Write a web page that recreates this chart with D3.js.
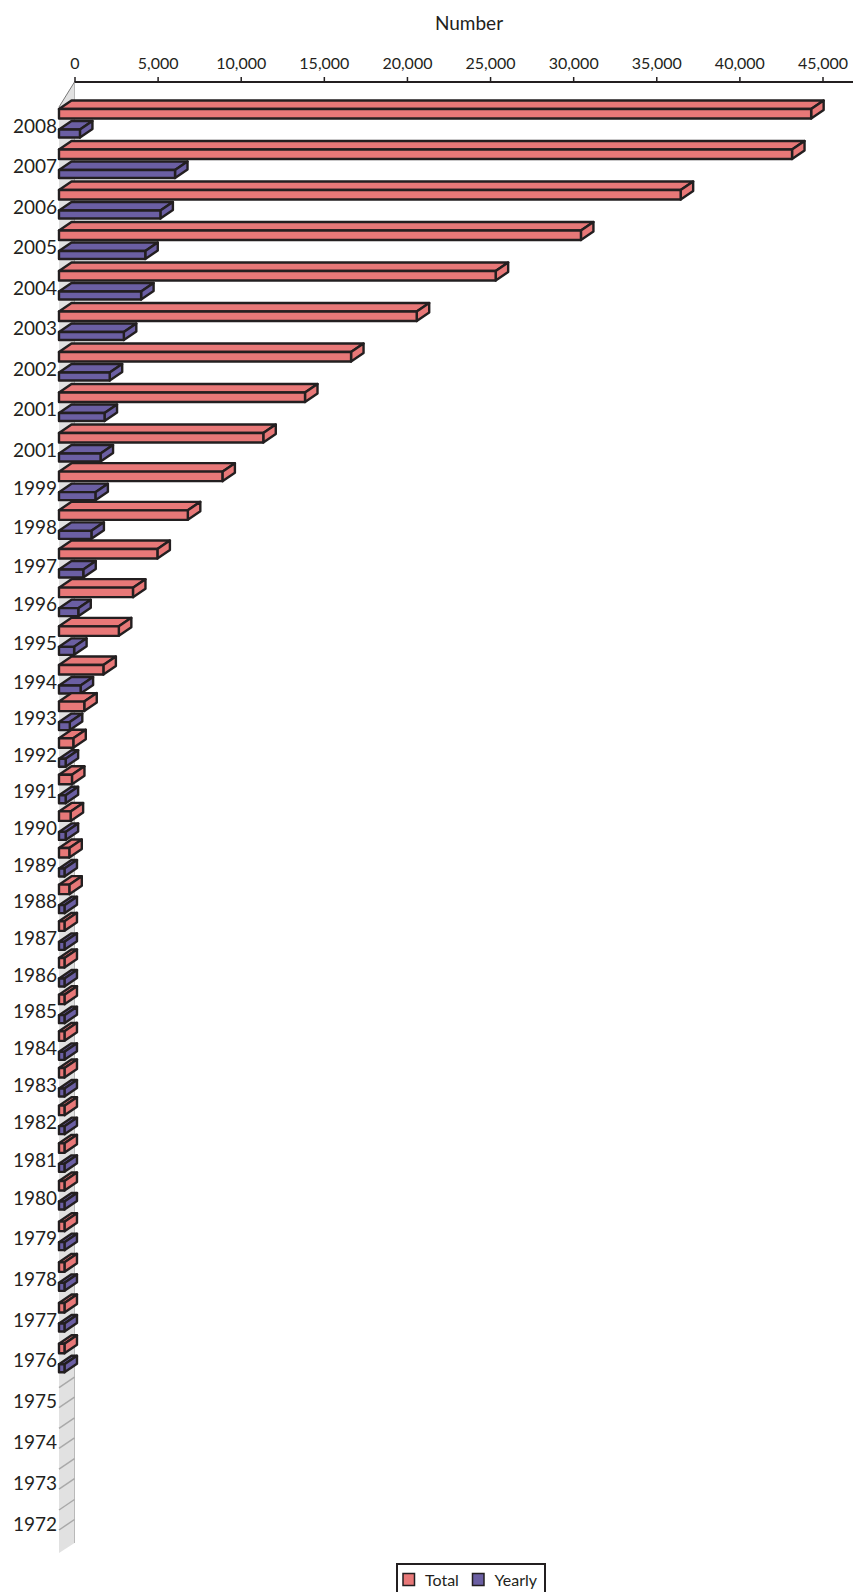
<!DOCTYPE html>
<html>
<head>
<meta charset="utf-8">
<script src="https://cdn.jsdelivr.net/npm/d3@7"></script>
<style>
  body { margin: 0; background: #fff; }
  svg text { font-family: Lato, "Noto Sans", sans-serif; fill: #231f20; }
</style>
</head>
<body>
<div id="chart"></div>
<script>
'use strict'

// categories, top to bottom (the source really lists 2001 twice)
const years = ["2008", "2007", "2006", "2005", "2004", "2003", "2002", "2001", "2001", "1999",
  "1998", "1997", "1996", "1995", "1994", "1993", "1992", "1991", "1990", "1989",
  "1988", "1987", "1986", "1985", "1984", "1983", "1982", "1981", "1980", "1979",
  "1978", "1977", "1976", "1975", "1974", "1973", "1972"]

const totalValues = [45250, 44100, 37400, 31400, 26270, 21520, 17570, 14800, 12290, 9830,
  7750, 5920, 4450, 3600, 2670, 1520, 860, 780, 700, 620,
  620, 330, 330, 330, 330, 330, 330, 330, 330, 330,
  330, 330, 330, 0, 0, 0, 0]

const yearlyValues = [1260, 6980, 6100, 5190, 4940, 3900, 3050, 2740, 2500, 2190,
  1950, 1460, 1160, 910, 1300, 650, 400, 400, 400, 330,
  330, 330, 330, 330, 330, 330, 330, 330, 330, 330,
  330, 330, 330, 0, 0, 0, 0]

const tickValues = [0, 5000, 10000, 15000, 20000, 25000, 30000, 35000, 40000, 45000]
const seriesNames = ["Total", "Yearly"]
const seriesColors = ["#e87878", "#6b5fa3"]

const width = 853, height = 1592
const frontX = 59, backX = 74.5          // value 0 on the front / back of the wall
const wallDy = -10.5
const barDx = 12.5, barDy = -8.5        // depth of a bar
const axisY = 82
const ink = "#231f20"

const svg = d3.select("#chart").append("svg")
  .attr("width", width)
  .attr("height", height)

const x = d3.scaleLinear().domain([0, 45000]).range([0, 748])

// row tops of the Total bars (the original layout is slightly uneven)
const rowY = d3.scaleLinear()
  .domain([0, 8, 14, 19, 25, 28, 31, 36])
  .range([109, 433, 665, 848, 1068, 1181, 1303, 1507])

const rows = years.map((y, i) => ({ year: y, i: i, top: rowY(i), total: totalValues[i], yearly: yearlyValues[i] }))

// --- side wall
const wallTop = 107, wallBottom = 1553
svg.append("polygon")
  .attr("points", [[frontX, wallTop], [backX, axisY], [backX, wallBottom - 10], [frontX, wallBottom]].join(" "))
  .attr("fill", "#e1e1e1")
svg.append("line")
  .attr("x1", frontX).attr("y1", wallTop).attr("x2", backX).attr("y2", axisY)
  .attr("stroke", "#777").attr("stroke-width", 1)
svg.append("line")
  .attr("x1", backX).attr("y1", axisY).attr("x2", backX).attr("y2", wallBottom - 10)
  .attr("stroke", "#b9b9b9").attr("stroke-width", 1)

// wall grid lines, two per category
const slotOffsets = [3, 23]
svg.append("g")
  .selectAll("line")
  .data(rows.flatMap(r => slotOffsets.map(o => r.top + o)))
  .enter().append("line")
    .attr("x1", frontX).attr("y1", d => d)
    .attr("x2", backX).attr("y2", d => d + wallDy)
    .attr("stroke", "#a9a9a9")
    .attr("stroke-width", 1.5)

// --- value axis at the top (on the back plane)
const axisG = svg.append("g")
  .attr("transform", "translate(" + backX + "," + axisY + ")")
  .call(d3.axisTop(x).tickValues(tickValues).tickFormat(d3.format(",")).tickSize(5).tickSizeOuter(0).tickPadding(8))
axisG.select(".domain").remove()
axisG.selectAll(".tick line").attr("stroke", ink).attr("stroke-width", 1.5)
axisG.selectAll(".tick text")
  .style("font-size", "16px")
  .attr("fill", ink)
axisG.append("line")
  .attr("x1", 0).attr("x2", width - backX)
  .attr("stroke", ink).attr("stroke-width", 2)

svg.append("text")
  .attr("x", 469)
  .attr("y", 30)
  .attr("text-anchor", "middle")
  .style("font-size", "19px")
  .text("Number")

// --- bars
const series = [
  { key: "total", color: seriesColors[0], offset: 0, h: 9.5 },
  { key: "yearly", color: seriesColors[1], offset: 20.5, h: 8 }
]

const bars = []
rows.forEach(r => {
  series.forEach(s => {
    if (r[s.key] > 0) bars.push({ row: r, s: s, v: r[s.key] })
  })
})

const barG = svg.append("g")
  .selectAll("g")
  .data(bars)
  .enter().append("g")
    .attr("fill", d => d.s.color)
    .attr("stroke", ink)
    .attr("stroke-width", 2.4)
    .attr("stroke-linejoin", "round")

function faces(d) {
  const y0 = d.row.top + d.s.offset
  const x0 = frontX, x1 = frontX + x(d.v), h = d.s.h
  return {
    front: [[x0, y0], [x1, y0], [x1, y0 + h], [x0, y0 + h]],
    top: [[x0, y0], [x1, y0], [x1 + barDx, y0 + barDy], [x0 + barDx, y0 + barDy]],
    side: [[x1, y0], [x1 + barDx, y0 + barDy], [x1 + barDx, y0 + barDy + h], [x1, y0 + h]]
  }
}

barG.append("polygon").attr("points", d => faces(d).top.join(" "))
barG.append("polygon").attr("points", d => faces(d).side.join(" "))
barG.append("polygon").attr("points", d => faces(d).front.join(" "))

// --- category labels
svg.append("g")
  .selectAll("text")
  .data(rows)
  .enter().append("text")
    .attr("x", 57)
    .attr("y", d => d.top + 23.5)
    .attr("text-anchor", "end")
    .style("font-size", "19px")
    .text(d => d.year)

// --- legend
const legend = svg.append("g").attr("transform", "translate(397,1564)")
legend.append("rect")
  .attr("width", 148).attr("height", 30)
  .attr("fill", "#fff").attr("stroke", ink).attr("stroke-width", 2)
const legendX = [6, 75.5]
const item = legend.selectAll(".item")
  .data(seriesNames)
  .enter().append("g")
    .attr("class", "item")
    .attr("transform", (d, i) => "translate(" + legendX[i] + ",9.5)")
item.append("rect")
  .attr("width", 11.5).attr("height", 12)
  .attr("fill", (d, i) => seriesColors[i])
  .attr("stroke", ink).attr("stroke-width", 1.5)
item.append("text")
  .attr("x", 22)
  .attr("y", 12.5)
  .style("font-size", "16px")
  .text(d => d)
</script>
</body>
</html>
